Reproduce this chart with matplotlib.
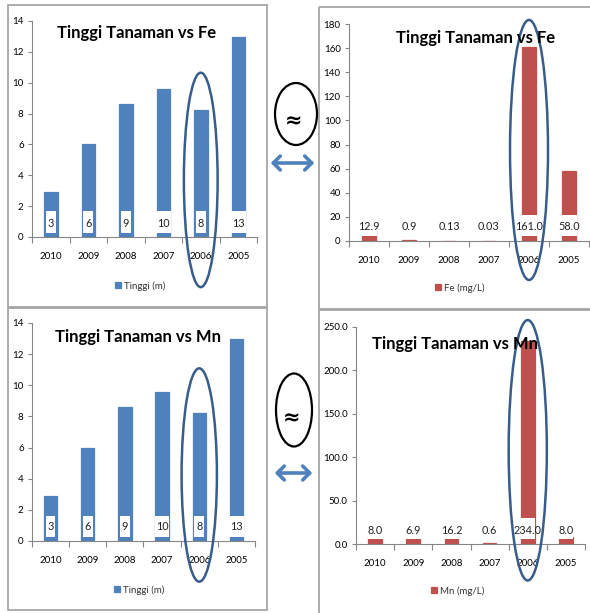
import matplotlib
matplotlib.use("Agg")
import matplotlib.pyplot as plt
from matplotlib.patches import Ellipse, Rectangle, FancyArrowPatch
import numpy as np

plt.rcParams['font.family'] = ['Lato', 'DejaVu Sans']

# data
years = ['2010', '2009', '2008', '2007', '2006', '2005']
tinggi = [2.9, 6.0, 8.6, 9.6, 8.25, 12.95]
tinggi_labels = [f'{v:.0f}' for v in tinggi]
fe = [12.9, 0.9, 0.13, 0.03, 161.0, 58.0]
fe_labels = ['12.9', '0.9', '0.13', '0.03', '161.0', '58.0']
mn = [8.0, 6.9, 16.2, 0.6, 234.0, 8.0]
mn_labels = [f'{v:.1f}' for v in mn]

W, H = 590, 613
BLUE = '#4F81BD'
RED = '#C0504D'
RING = '#385D8A'
GREY = '#868686'

fig = plt.figure(figsize=(W / 100, H / 100), dpi=100)


def px_rect(l, t, r, b):
    return [l / W, 1 - b / H, (r - l) / W, (b - t) / H]


def chart(rect, values, labels, color, ymax, ystep, yfmt, box, label_y,
          legend_text, legend_xy, title, title_xy, ring):
    ax = fig.add_axes(px_rect(*rect))
    x = np.arange(len(years))
    bw = 0.36
    ax.bar(x, values, width=bw, color=color, edgecolor=color, linewidth=0.9,
           label=legend_text, zorder=2)
    # white label boxes that sit over the bars, Excel style
    for xi, lab in zip(x, labels):
        w = bw + 0.03 if len(lab) > 1 else bw * 0.72
        ax.bar(xi, box[1] - box[0], bottom=box[0], width=w, color='white',
               linewidth=0, zorder=3)
        ax.text(xi, label_y, lab, ha='center', va='center', fontsize=7.8,
                color='#222222', zorder=4)

    ax.set_xlim(-0.5, len(years) - 0.5)
    ax.set_ylim(0, ymax)
    ax.set_yticks(np.arange(0, ymax + ystep / 2, ystep))
    ax.set_yticklabels([yfmt.format(v) for v in np.arange(0, ymax + ystep / 2, ystep)])
    ax.set_xticks(x)
    ax.set_xticklabels(years)
    ax.set_xticks(np.arange(-0.5, len(years)), minor=True)
    ax.tick_params(axis='x', which='major', length=0, pad=11, labelsize=7)
    ax.tick_params(axis='x', which='minor', length=4, color=GREY, width=0.8)
    ax.tick_params(axis='y', length=3, color=GREY, width=0.8, labelsize=7, pad=3)
    for s in ('top', 'right'):
        ax.spines[s].set_visible(False)
    for s in ('left', 'bottom'):
        ax.spines[s].set_color(GREY)
        ax.spines[s].set_linewidth(0.8)
    ax.patch.set_alpha(0)

    ax.legend(loc='center', bbox_to_anchor=(legend_xy[0] / W, 1 - legend_xy[1] / H),
              bbox_transform=fig.transFigure, frameon=False, fontsize=7,
              handlelength=0.6, handleheight=0.6, handletextpad=0.3,
              labelcolor='#333333')
    fig.text(title_xy[0] / W, 1 - title_xy[1] / H, title, ha='center',
             va='center', fontsize=12, weight='bold', color='black', zorder=5)

    # ring around 2006
    cx, cy, ew, eh = ring
    ax.add_patch(Ellipse((cx, cy), ew, eh, fill=False, edgecolor=RING,
                         linewidth=1.8, clip_on=False, zorder=6))
    return ax


chart((32, 21, 257, 237), tinggi, tinggi_labels, BLUE, 14, 2, '{:.0f}',
      (0.28, 1.68), 0.9, 'Tinggi (m)', (140, 286),
      'Tinggi Tanaman vs Fe', (137, 33), (4, 3.7, 0.9, 13.9))
chart((349, 24, 589, 241), fe, fe_labels, RED, 180, 20, '{:.0f}',
      (3.9, 21.3), 12, 'Fe (mg/L)', (460, 288),
      'Tinggi Tanaman vs Fe', (476, 38), (4, 75.5, 0.95, 215.7))
chart((32, 323, 255, 541), tinggi, tinggi_labels, BLUE, 14, 2, '{:.0f}',
      (0.24, 1.63), 0.9, 'Tinggi (m)', (139, 590),
      'Tinggi Tanaman vs Mn', (138, 337), (4, 4.24, 0.95, 13.7))
chart((356, 327, 585, 544), mn, mn_labels, RED, 250, 50, '{:.1f}',
      (5.8, 30), 16, 'Mn (mg/L)', (458, 591),
      'Tinggi Tanaman vs Mn', (455, 344), (4, 108, 1.0, 300))

# overlay in pixel units for frames, rings and arrows
ov = fig.add_axes([0, 0, 1, 1])
ov.set_xlim(0, W)
ov.set_ylim(H, 0)
ov.axis('off')

for (l, t, r, b) in [(8, 5, 267, 307), (319, 7, 595, 309),
                     (8, 308, 267, 610), (319, 310, 595, 616)]:
    ov.add_patch(Rectangle((l, t), r - l, b - t, fill=False,
                           edgecolor='#A6A6A6', linewidth=1.3))

for (cx, cy, ew, eh, ty, ay, ax0, ax1) in [(296, 114, 42, 62, 121, 163, 268, 317),
                                          (294, 410, 36, 73, 418, 473, 272, 315)]:
    ov.add_patch(Ellipse((cx, cy), ew, eh, fill=False, edgecolor='black',
                         linewidth=1.6))
    ov.text(cx - 2, ty, '≈', ha='center', va='center', fontsize=15,
            weight='bold', family='DejaVu Sans')
    ov.add_patch(FancyArrowPatch((ax0, ay), (ax1, ay),
                                 arrowstyle='<->,head_length=5,head_width=5',
                                 color=BLUE, linewidth=2.6, mutation_scale=1))

fig.savefig('out.png', dpi=100)
